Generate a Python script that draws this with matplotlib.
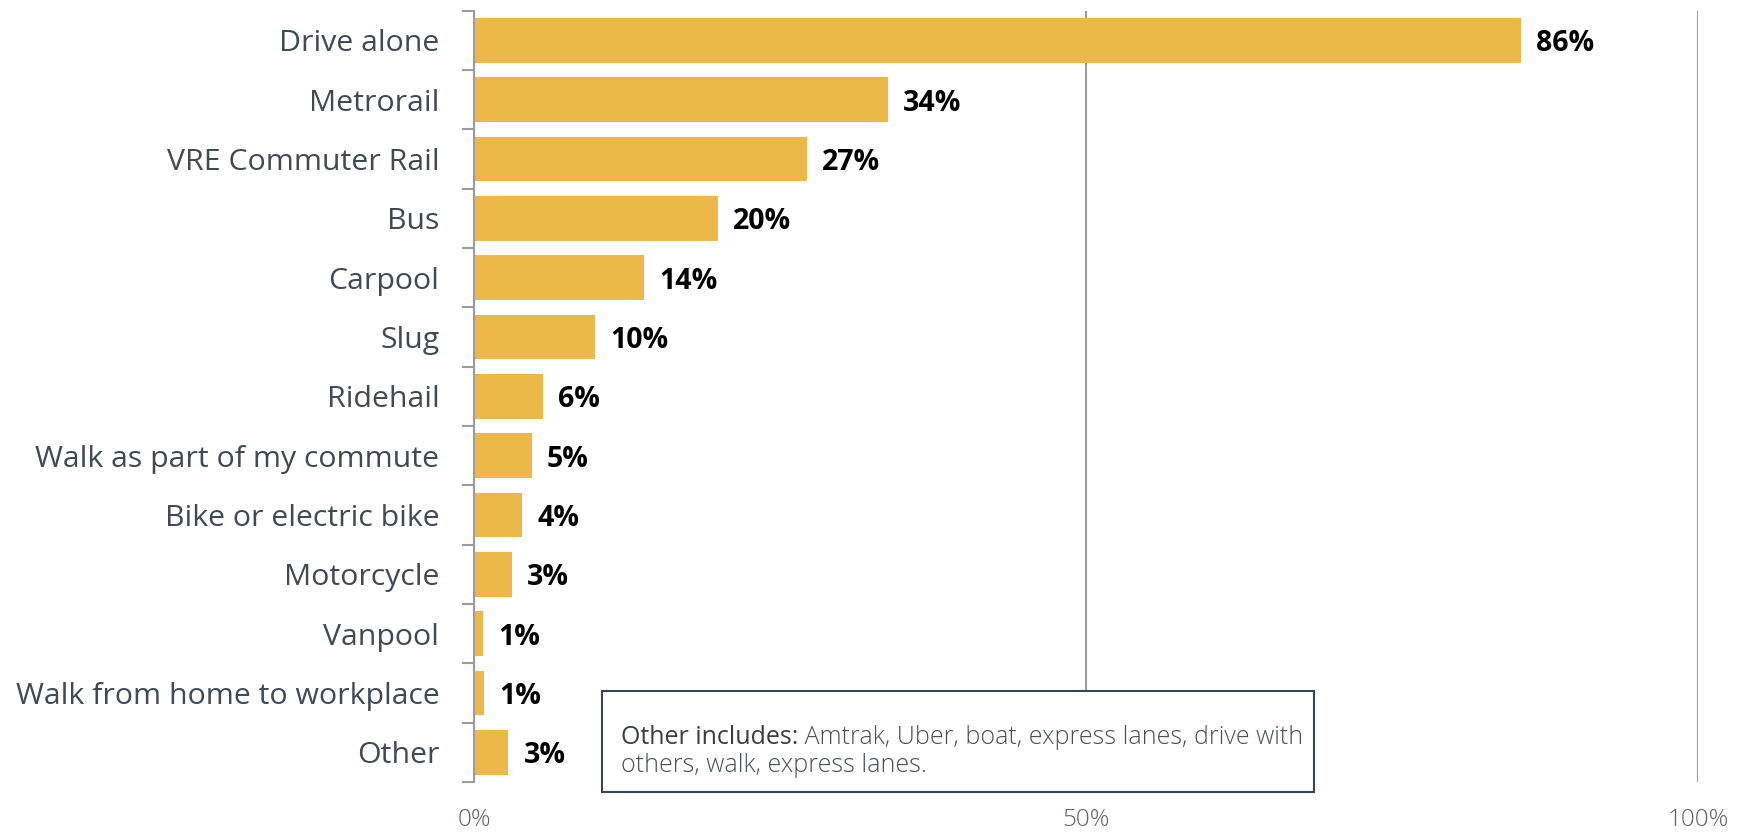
import matplotlib.pyplot as plt
from matplotlib.patches import Rectangle
import numpy as np

plt.rcParams["font.family"] = ["Open Sans", "DejaVu Sans"]

modes = [
    "Drive alone",
    "Metrorail",
    "VRE Commuter Rail",
    "Bus",
    "Carpool",
    "Slug",
    "Ridehail",
    "Walk as part of my commute",
    "Bike or electric bike",
    "Motorcycle",
    "Vanpool",
    "Walk from home to workplace",
    "Other",
]
shares = [85.5, 33.8, 27.2, 19.9, 13.9, 9.9, 5.6, 4.7, 3.9, 3.1, 0.7, 0.8, 2.8]
labels = ["86%", "34%", "27%", "20%", "14%", "10%", "6%", "5%", "4%", "3%", "1%", "1%", "3%"]
x_ticks = [0, 50, 100]
x_tick_labels = ["0%", "50%", "100%"]

bar_color = "#ECB84A"
grid_color = "#9c9ca0"
text_color = "#414956"
note_color = "#464e5b"

fig = plt.figure(figsize=(17.46, 8.33), dpi=100)
ax = fig.add_axes([0.2715, 0.0612, 0.701, 0.9260])

y = np.arange(len(modes))
ax.barh(y, shares, height=0.75, color=bar_color, zorder=2)
for yi, v, lab in zip(y, shares, labels):
    ax.annotate(lab, (v, yi), xytext=(11, -2.5), textcoords="offset points",
                ha="left", va="center", fontsize=20.5, fontweight="bold",
                color="black")

ax.set_xlim(0, 100)
ax.set_ylim(len(modes) - 0.5, -0.5)

ax.set_yticks(y, labels=modes)
ax.tick_params(axis="y", which="major", length=0, pad=25, labelsize=21.8,
               labelcolor=text_color)
ax.set_yticks(np.arange(len(modes) + 1) - 0.5, minor=True)
ax.tick_params(axis="y", which="minor", length=8.5, width=1.5, color=grid_color)

ax.set_xticks(x_ticks, labels=x_tick_labels)
ax.tick_params(axis="x", length=0, pad=19, labelsize=17.5, labelcolor="#5b6370")
for t in ax.get_xticklabels():
    t.set_fontweight("light")

ax.xaxis.grid(True, color=grid_color, linewidth=1.5, zorder=0)
for s in ["top", "right", "bottom"]:
    ax.spines[s].set_visible(False)
ax.spines["left"].set_color(grid_color)
ax.spines["left"].set_linewidth(1.5)
ax.spines["left"].set_zorder(3)

# note box
box = Rectangle((602 / 1746, 1 - 792 / 833), (1314 - 602) / 1746, (792 - 691) / 833,
                transform=fig.transFigure, facecolor="white", edgecolor="#3c4450",
                linewidth=1.5, zorder=5)
fig.add_artist(box)
t1 = fig.text(621 / 1746, 1 - 737 / 833, "Other includes:", ha="left", va="center",
              fontsize=18, color="#363e4a", zorder=6)
fig.canvas.draw()
ext = t1.get_window_extent()
fig.text(ext.x1 / fig.bbox.width, 1 - 737 / 833,
         " Amtrak, Uber, boat, express lanes, drive with", ha="left", va="center",
         fontsize=18, color=note_color, fontweight="light", zorder=6)
fig.text(621 / 1746, 1 - 765 / 833, "others, walk, express lanes.", ha="left", va="center",
         fontsize=18, color=note_color, fontweight="light", zorder=6)

fig.savefig("out.png", dpi=100)
